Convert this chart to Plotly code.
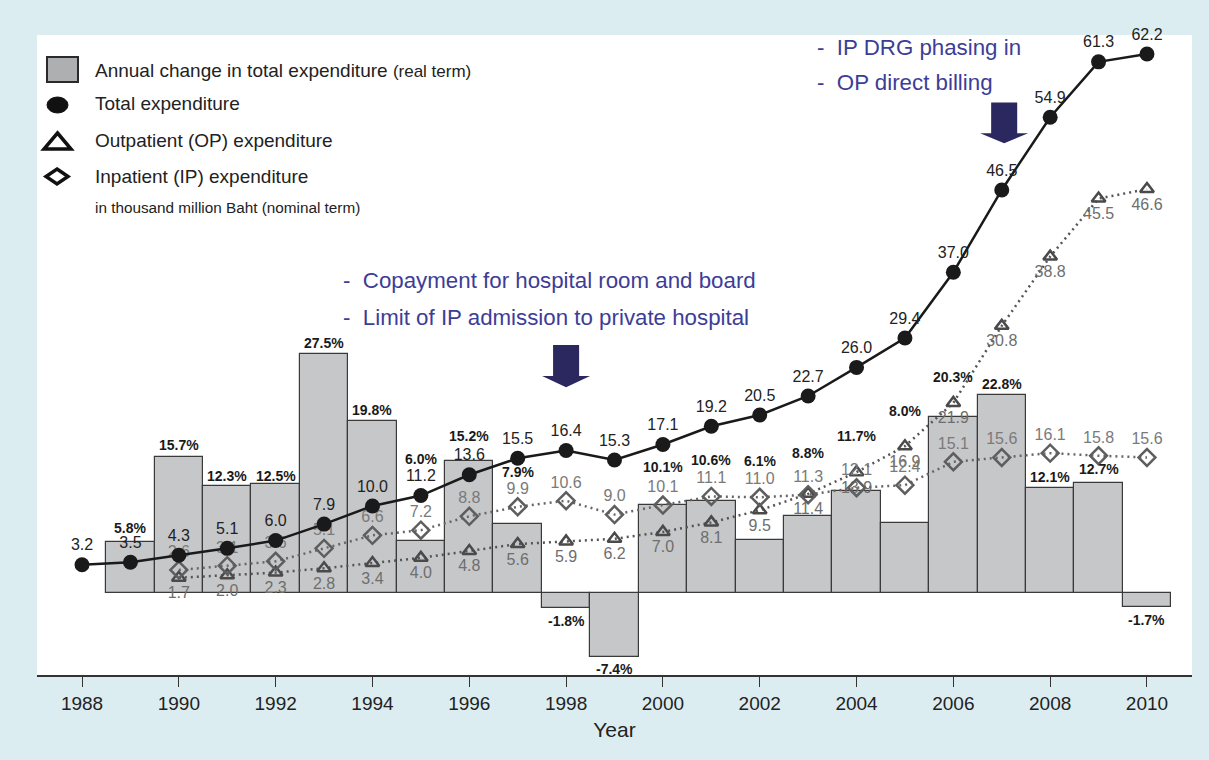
import plotly.graph_objects as go

# ---------------- data ----------------
years = list(range(1988, 2011))
total_exp = [3.2, 3.5, 4.3, 5.1, 6.0, 7.9, 10.0, 11.2, 13.6, 15.5, 16.4, 15.3,
             17.1, 19.2, 20.5, 22.7, 26.0, 29.4, 37.0, 46.5, 54.9, 61.3, 62.2]

op_years = list(range(1990, 2011))
op_exp = [1.7, 2.0, 2.3, 2.8, 3.4, 4.0, 4.8, 5.6, 5.9, 6.2, 7.0, 8.1, 9.5, 11.4,
          13.9, 16.9, 21.9, 30.8, 38.8, 45.5, 46.6]
ip_exp = [2.6, 3.1, 3.6, 5.1, 6.6, 7.2, 8.8, 9.9, 10.6, 9.0, 10.1, 11.1, 11.0, 11.3,
          12.1, 12.4, 15.1, 15.6, 16.1, 15.8, 15.6]

bar_years = list(range(1989, 2011))
annual_change = [5.8, 15.7, 12.3, 12.5, 27.5, 19.8, 6.0, 15.2, 7.9, -1.8, -7.4,
                 10.1, 10.6, 6.1, 8.8, 11.7, 8.0, 20.3, 22.8, 12.1, 12.7, -1.7]
# vertical placement (data units) of the % labels, as in the original
pct_label_y = [7.45, 17.0, 13.45, 13.45, 28.8, 21.1, 15.4, 18.1, 13.95, -3.3, -8.8,
               14.5, 15.3, 15.2, 16.1, 18.1, 21.0, 24.9, 24.1, 13.3, 14.3, -3.2]

tick_years = list(range(1988, 2011, 2))

# ---------------- geometry helpers ----------------
W, H = 1209, 760
ML, MR, MT, MB = 37, 17, 35, 85
PW, PH = W - ML - MR, H - MT - MB


def pxx(px):
    return (px - ML) / PW


def pxy(py):
    return (H - MB - py) / PH


FONT = "Liberation Sans, Arial, sans-serif"
BLUE = "#3d3d96"
NAVY = "#2b2860"

fig = go.Figure()

fig.add_trace(go.Bar(
    x=bar_years, y=annual_change, width=1.0,
    marker=dict(color="#c6c7c9", line=dict(color="#3a3a3a", width=1.2)),
    showlegend=False, hoverinfo="x+y"))

fig.add_trace(go.Scatter(
    x=op_years, y=op_exp, mode="lines+markers+text",
    line=dict(color="#555555", width=2.5, dash="2px,4px"),
    marker=dict(symbol="triangle-up-open", size=12, color="#4a4a4a",
                line=dict(width=2.5, color="#4a4a4a")),
    text=[f"{v:.1f}" for v in op_exp], textposition="bottom center",
    textfont=dict(size=16, color="#6e6e6e", family=FONT),
    cliponaxis=False, showlegend=False))

fig.add_trace(go.Scatter(
    x=op_years, y=ip_exp, mode="lines+markers+text",
    line=dict(color="#666666", width=2.5, dash="2px,4px"),
    marker=dict(symbol="diamond-open", size=13, color="#5e5e5e",
                line=dict(width=2.5, color="#5e5e5e")),
    text=[f"{v:.1f}" for v in ip_exp], textposition="top center",
    textfont=dict(size=16, color="#7a7a7a", family=FONT),
    cliponaxis=False, showlegend=False))

fig.add_trace(go.Scatter(
    x=years, y=total_exp, mode="lines+markers+text",
    line=dict(color="#1a1a1a", width=2.5),
    marker=dict(symbol="circle", size=15, color="#1a1a1a"),
    text=[f"{v:.1f}" for v in total_exp], textposition="top center",
    textfont=dict(size=16, color="#222222", family=FONT),
    cliponaxis=False, showlegend=False))

annotations = []
for yr, v, ly in zip(bar_years, annual_change, pct_label_y):
    annotations.append(dict(x=yr, y=ly, xref="x", yref="y", text=f"<b>{v:.1f}%</b>",
                            showarrow=False, font=dict(size=14, color="#1a1a1a", family=FONT)))

# legend (manual)
leg_items = [
    (70, "Annual change in total expenditure <span style='font-size:17px'>(real term)</span>", 19),
    (104, "Total expenditure", 19),
    (140, "Outpatient (OP) expenditure", 19),
    (176, "Inpatient (IP) expenditure", 19),
    (208, "in thousand million Baht (nominal term)", 15.3),
]
for py, txt, fs in leg_items:
    annotations.append(dict(x=pxx(93), y=pxy(py), xref="paper", yref="paper", text=txt,
                            xanchor="left", yanchor="middle", showarrow=False,
                            font=dict(size=fs, color="#222222", family=FONT)))

# policy notes
for px, py, txt in [(341, 280, "-  Copayment for hospital room and board"),
                    (341, 317, "-  Limit of IP admission to private hospital"),
                    (815, 47, "-  IP DRG phasing in"),
                    (815, 83, "-  OP direct billing")]:
    annotations.append(dict(x=pxx(px), y=pxy(py), xref="paper", yref="paper", text=txt,
                            xanchor="left", yanchor="middle", showarrow=False,
                            font=dict(size=22.3, color=BLUE, family=FONT)))

shapes = []
# legend symbols
shapes.append(dict(type="rect", xref="paper", yref="paper", x0=pxx(47), x1=pxx(78),
                   y0=pxy(82), y1=pxy(57), fillcolor="#aeafb1",
                   line=dict(color="#2a2a2a", width=2)))
shapes.append(dict(type="circle", xref="paper", yref="paper", x0=pxx(47), x1=pxx(68),
                   y0=pxy(113), y1=pxy(97), fillcolor="#111111",
                   line=dict(color="#111111", width=1)))


def ppath(pts):
    return "M " + " L ".join(f"{pxx(a):.5f},{pxy(b):.5f}" for a, b in pts) + " Z"


shapes.append(dict(type="path", xref="paper", yref="paper",
                   path=ppath([(57.5, 133), (71, 149), (44, 149)]),
                   line=dict(color="#111111", width=3.5)))
shapes.append(dict(type="path", xref="paper", yref="paper",
                   path=ppath([(57, 169), (68, 176.5), (57, 184), (46, 176.5)]),
                   line=dict(color="#111111", width=3.5)))


def arrow(xc, y_top, y_head, y_tip, sh=0.269, hh=0.496):
    pts = [(xc - sh, y_top), (xc + sh, y_top), (xc + sh, y_head), (xc + hh, y_head),
           (xc, y_tip), (xc - hh, y_head), (xc - sh, y_head)]
    return dict(type="path", xref="x", yref="y",
                path="M " + " L ".join(f"{a:.4f},{b:.4f}" for a, b in pts) + " Z",
                fillcolor=NAVY, line=dict(color=NAVY, width=0))


shapes.append(arrow(1998.0, 28.6, 25.0, 23.7))
shapes.append(arrow(2007.05, 56.6, 53.06, 51.9))

fig.update_layout(
    width=W, height=H,
    margin=dict(l=ML, r=MR, t=MT, b=MB),
    paper_bgcolor="#dcedf1", plot_bgcolor="#ffffff",
    font=dict(family=FONT, color="#222222"),
    bargap=0, showlegend=False,
    xaxis=dict(range=[1987.07, 2010.93], tickvals=tick_years,
               ticktext=[str(t) for t in tick_years],
               ticks="outside", ticklen=10, tickwidth=1.2, tickcolor="#333333",
               showline=True, linecolor="#333333", linewidth=1.5,
               showgrid=False, zeroline=False,
               tickfont=dict(size=19, color="#222222"),
               title=dict(text="Year", font=dict(size=21, color="#222222"), standoff=10)),
    yaxis=dict(range=[-9.53, 64.4], visible=False, showgrid=False, zeroline=False),
    annotations=annotations, shapes=shapes,
)

fig.write_html("out.html", config={"displayModeBar": False},
               post_script="document.body.style.margin='0';")
